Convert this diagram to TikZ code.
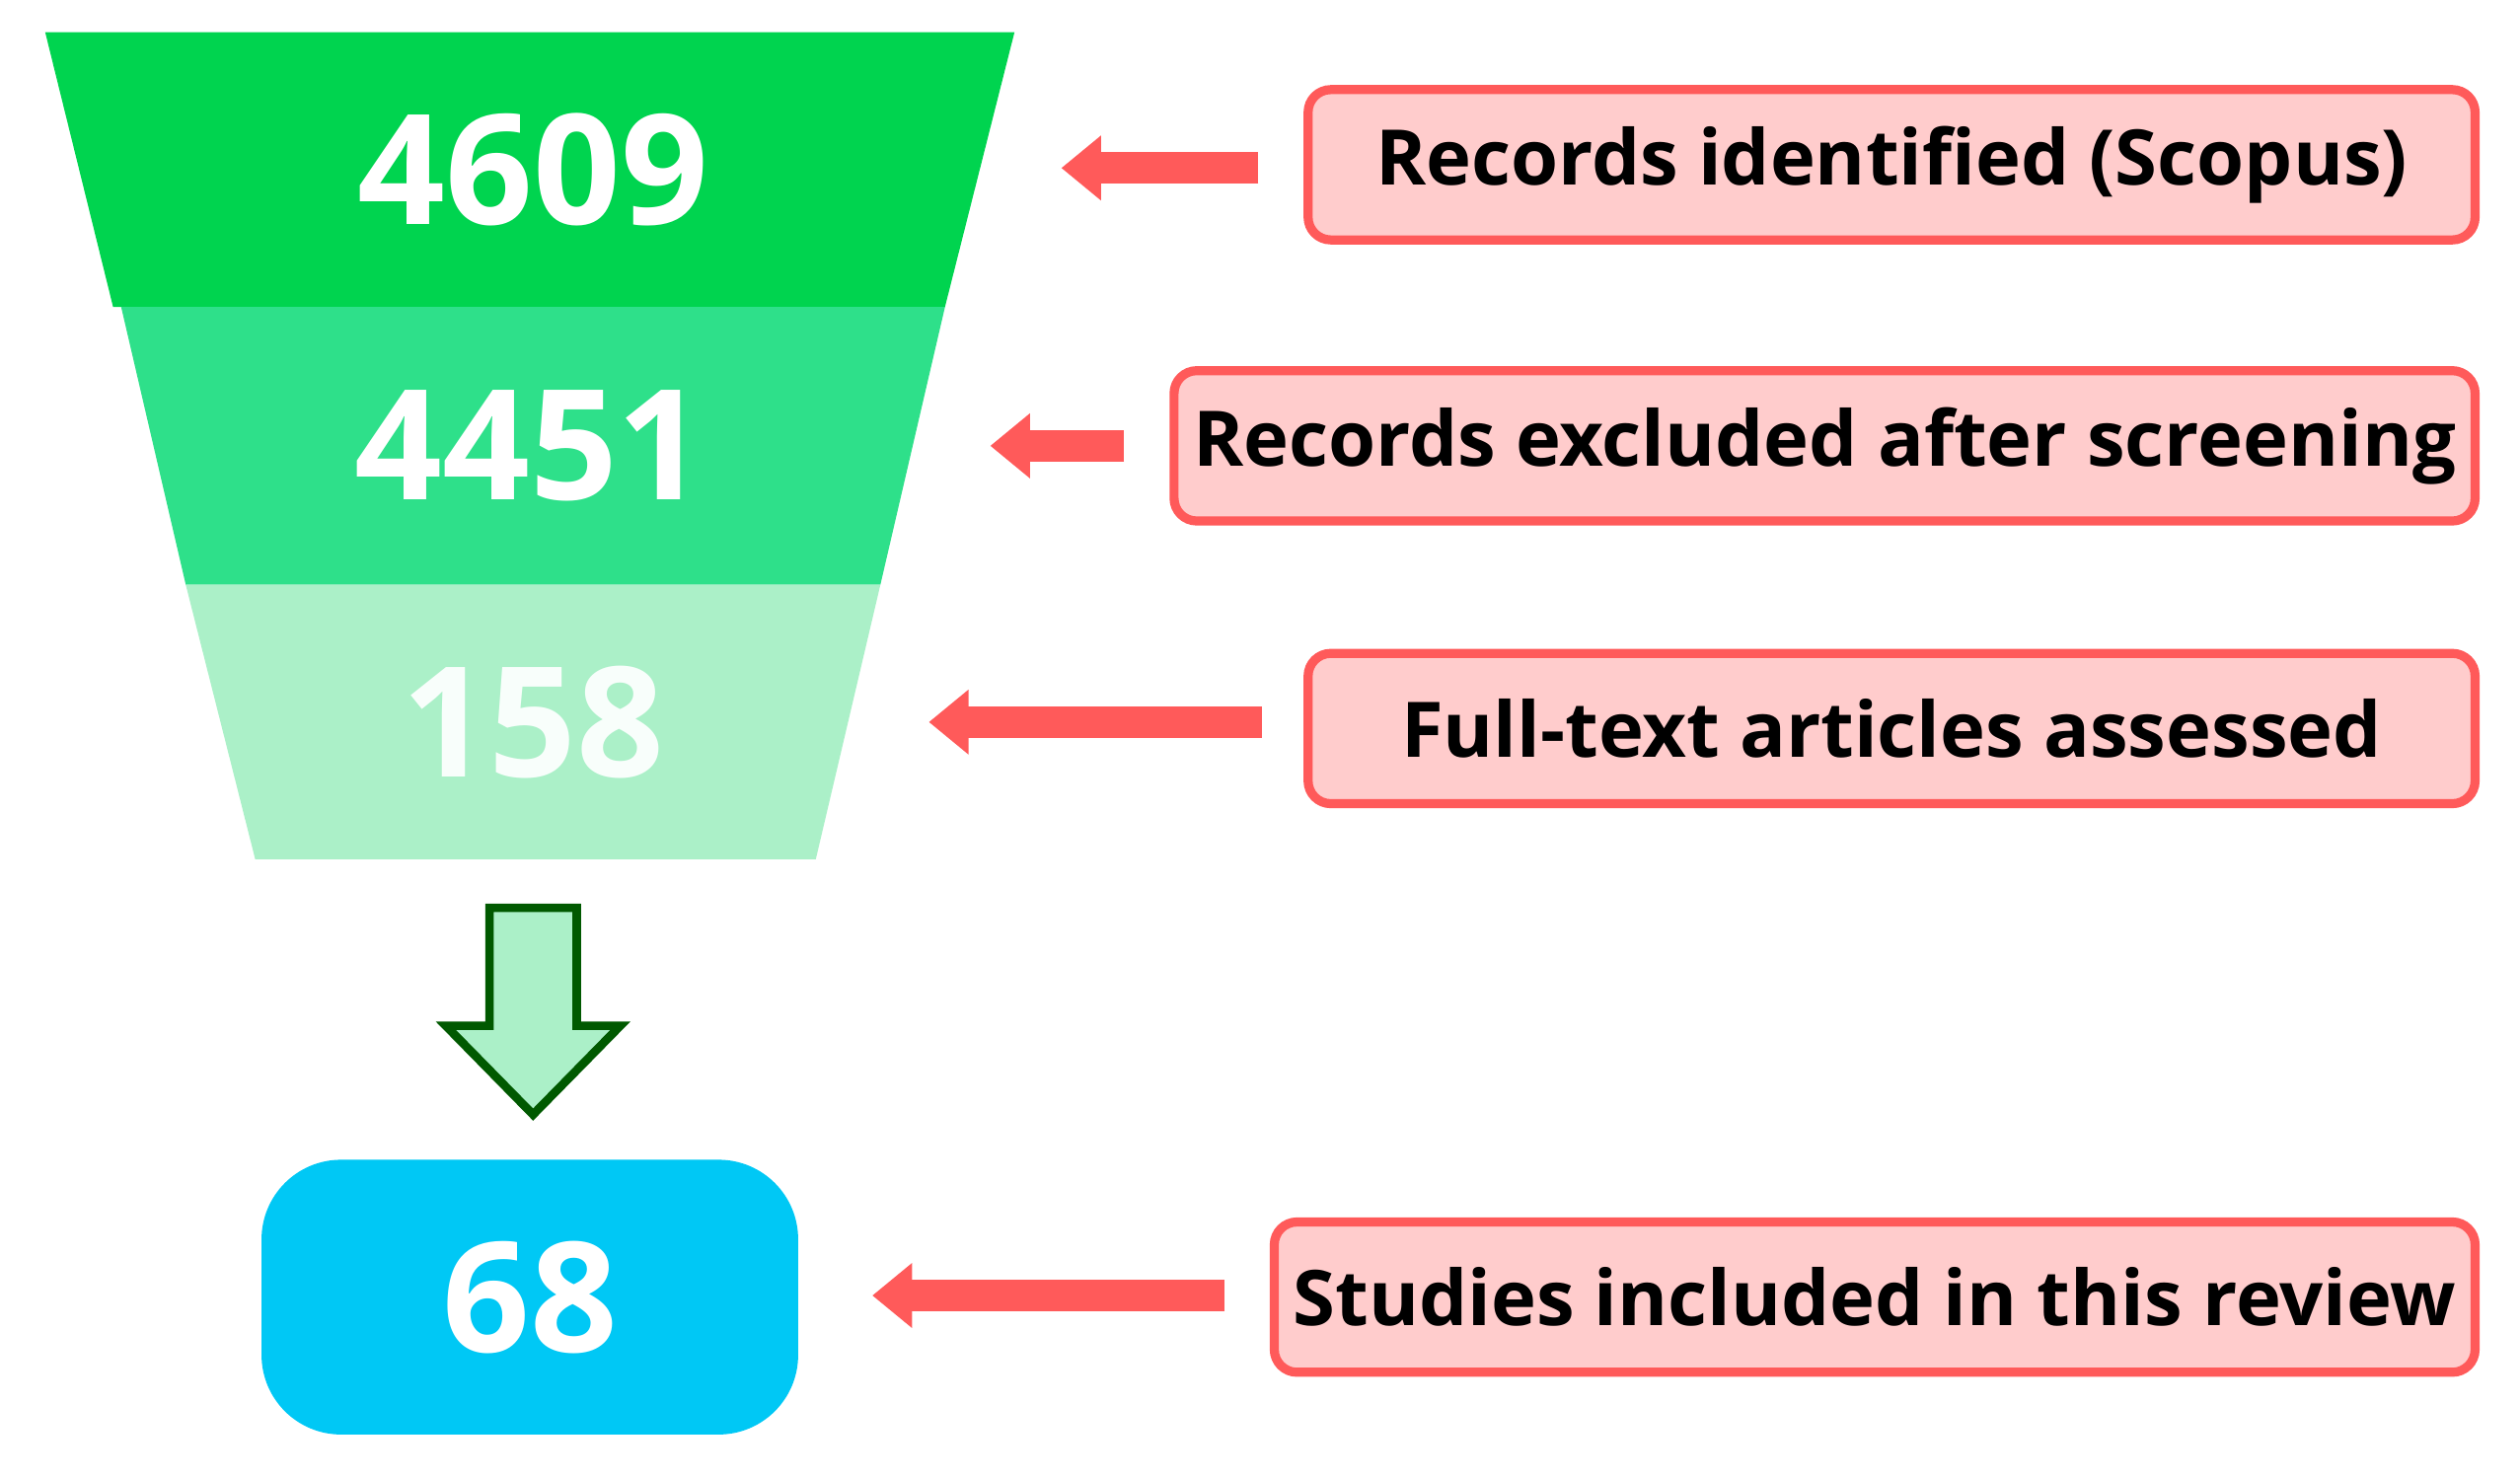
\documentclass[tikz,border=0pt]{standalone}
\usepackage{fontspec}
\setmainfont{Open Sans}
\usetikzlibrary{arrows.meta,positioning}
\definecolor{bandA}{HTML}{00D44F}
\definecolor{bandB}{HTML}{2EE08A}
\definecolor{bandC}{HTML}{ABF0C8}
\definecolor{boxcyan}{HTML}{00C8F5}
\definecolor{lblfill}{HTML}{FFCCCC}
\definecolor{lbldraw}{HTML}{FF5A5A}
\tikzset{num/.style={text=white, font=\bfseries\fontsize{27}{30}\selectfont},
  lbl/.style={draw=lbldraw, fill=lblfill, line width=1.6pt, rounded corners=4pt, minimum height=0.93cm, anchor=east, text=black, font=\bfseries\fontsize{13.5}{16}\selectfont},
  redarrow/.style={draw=lbldraw, line width=5.5pt, -{Triangle[length=7pt,width=11pt]}}}
\begin{document}
\begin{tikzpicture}[x=0.01cm, y=-0.01cm]
    \useasboundingbox (0,0) rectangle (1560,915);
    % funnel
    \fill[bandA] (28,20) -- (628,20) -- (585,190) -- (70,190) -- cycle;
    \fill[bandB] (75,190) -- (585,190) -- (545,362) -- (115,362) -- cycle;
    \fill[bandC] (115,362) -- (545,362) -- (505,532) -- (158,532) -- cycle;
    \node[num] (n1) at (330,105) {4609};
    \node[num] (n2) at (328,276) {4451};
    \node[num, text=white!92!bandC] (n3) at (330,447) {158};
    % down arrow
    \draw[fill=bandC, draw=green!35!black, line width=1.5pt] (303,562) -- (357,562) -- (357,635) -- (384,635) -- (330,690) -- (276,635) -- (303,635) -- cycle;
    \node[num, fill=boxcyan, rounded corners=14pt, minimum width=3.32cm, minimum height=1.7cm] (n4) at (328,803) {68};
    % labels
    \node[lbl, minimum width=7.22cm] (l1) at (1535,102) {Records identified (Scopus)};
    \node[lbl, minimum width=7.92cm] (l2) at (1535,276) {Records excluded after screening};
    \node[lbl, minimum width=7.22cm] (l3) at (1535,451) {Full-text articles assessed};
    \node[lbl, minimum width=7.22cm] (l4) at (1535,803) {Studies included in this review};
    \coordinate (e1) at (657,104);
    \coordinate (e2) at (613,276);
    \coordinate (e3) at (575,447);
    \coordinate (e4) at (540,802);
    \draw[redarrow] ([xshift=-0.28cm]l1.west |- e1) -- (e1);
    \draw[redarrow] ([xshift=-0.28cm]l2.west |- e2) -- (e2);
    \draw[redarrow] ([xshift=-0.26cm]l3.west |- e3) -- (e3);
    \draw[redarrow] ([xshift=-0.28cm]l4.west |- e4) -- (e4);
\end{tikzpicture}
\end{document}
